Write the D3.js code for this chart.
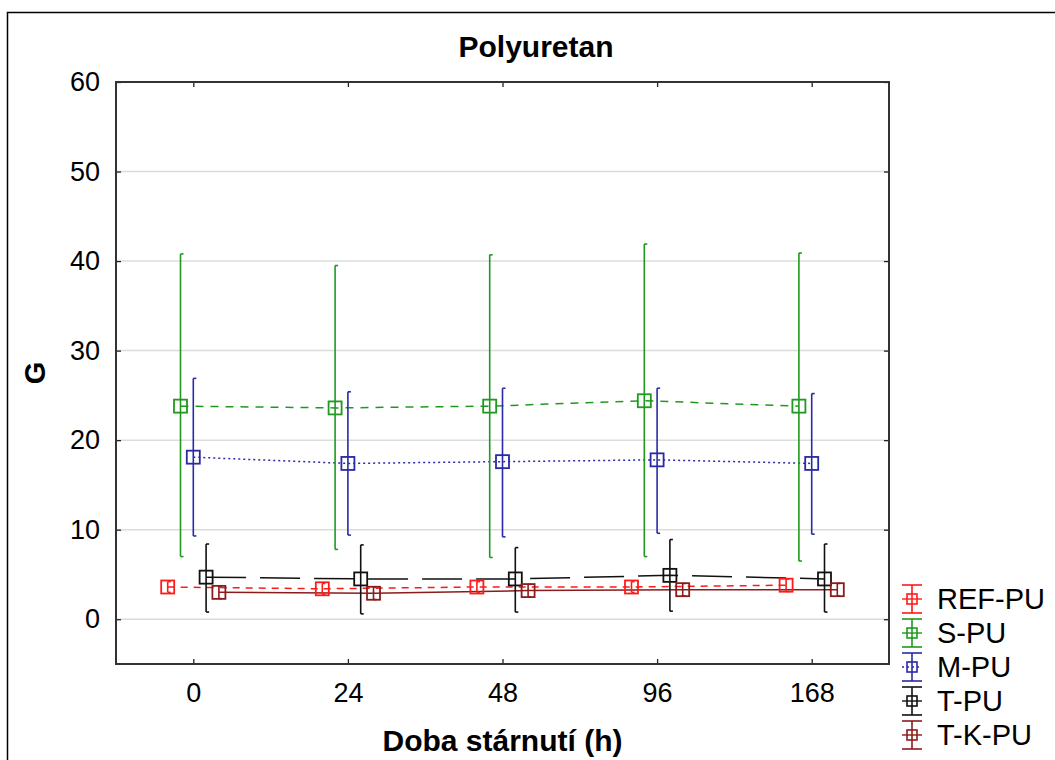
<!DOCTYPE html>
<html>
<head>
<meta charset="utf-8">
<script src="https://cdn.jsdelivr.net/npm/d3@7"></script>
<style>
  body { margin: 0; background: #fff; }
  text { font-family: "Liberation Sans", Arial, sans-serif; }
</style>
</head>
<body>
<div id="chart"></div>
<script>
// Sample data
const categories = ["0", "24", "48", "96", "168"];
const seriesNames = ["REF-PU", "S-PU", "M-PU", "T-PU", "T-K-PU"];

// means and error limits (low, high)
const refMean = [3.6, 3.4, 3.6, 3.6, 3.8];
const refLow  = [3.0, 2.8, 3.0, 3.0, 3.1];
const refHigh = [4.2, 4.0, 4.2, 4.2, 4.5];

const sMean = [23.8, 23.6, 23.8, 24.4, 23.8];
const sLow  = [7.0, 7.8, 6.9, 7.0, 6.5];
const sHigh = [40.8, 39.5, 40.7, 41.9, 40.9];

const mMean = [18.1, 17.4, 17.6, 17.8, 17.4];
const mLow  = [9.3, 9.4, 9.2, 9.6, 9.5];
const mHigh = [26.9, 25.4, 25.8, 25.8, 25.2];

const tMean = [4.7, 4.5, 4.5, 4.9, 4.5];
const tLow  = [0.8, 0.6, 0.8, 0.9, 0.8];
const tHigh = [8.4, 8.3, 8.0, 8.9, 8.4];

const tkMean = [3.0, 2.9, 3.2, 3.3, 3.3];
const tkLow  = [2.3, 2.2, 2.5, 2.6, 2.6];
const tkHigh = [3.7, 3.6, 3.9, 4.0, 4.0];

const yTicks = [0, 10, 20, 30, 40, 50, 60];

const series = [
  { name: "REF-PU", mean: refMean, low: refLow, high: refHigh, color: "#ff1a1a", dash: "7,6" },
  { name: "S-PU", mean: sMean, low: sLow, high: sHigh, color: "#1f9a1f", dash: "8,7" },
  { name: "M-PU", mean: mMean, low: mLow, high: mHigh, color: "#2a2aa6", dash: "2,3" },
  { name: "T-PU", mean: tMean, low: tLow, high: tHigh, color: "#111111", dash: "40,14" },
  { name: "T-K-PU", mean: tkMean, low: tkLow, high: tkHigh, color: "#8b1c1c", dash: null }
];

const width = 1055;
const height = 760;
const margin = { left: 116, top: 82, right: 166, bottom: 96 };
const plotW = width - margin.left - margin.right;
const plotH = height - margin.top - margin.bottom;
const fontSize = "27px";

const svg = d3.select("#chart")
  .append("svg")
  .attr("width", width)
  .attr("height", height);

// outer frame
svg.append("path")
  .attr("d", `M7.5,${height} V12.5 H${width}`)
  .attr("fill", "none")
  .attr("stroke", "#000")
  .attr("stroke-width", 1.5);

const xScale = d3.scalePoint()
  .domain(categories)
  .range([0, plotW])
  .padding(0.5);

const offset = d3.scalePoint()
  .domain(seriesNames)
  .range([-25.6, 25.6]);

const yScale = d3.scaleLinear()
  .domain([-5, 60])
  .range([plotH, 0]);

const g = svg.append("g")
  .attr("transform", `translate(${margin.left},${margin.top})`);

// grid
g.selectAll(".grid")
  .data(yTicks)
  .enter()
  .append("line")
  .attr("class", "grid")
  .attr("x1", 0)
  .attr("x2", plotW)
  .attr("y1", d => yScale(d))
  .attr("y2", d => yScale(d))
  .attr("stroke", "#dcdcdc")
  .attr("stroke-width", 1.5);

// axes with inward ticks on all sides
const yAxis = d3.axisLeft(yScale).tickValues(yTicks).tickSize(-5).tickPadding(16);
const xAxis = d3.axisBottom(xScale).tickSize(-5).tickPadding(19);

const gy = g.append("g").call(yAxis);
gy.selectAll("text").style("font-size", fontSize).attr("fill", "#000");
const gx = g.append("g").attr("transform", `translate(0,${plotH})`).call(xAxis);
gx.selectAll("text").style("font-size", fontSize).attr("fill", "#000");

g.append("g").attr("transform", `translate(${plotW},0)`)
  .call(d3.axisRight(yScale).tickValues(yTicks).tickSize(-5).tickFormat(""));
g.append("g")
  .call(d3.axisTop(xScale).tickSize(-5).tickFormat(""));

g.selectAll(".domain").remove();
g.selectAll(".tick line").attr("stroke", "#222").attr("stroke-width", 1.3);

g.append("rect")
  .attr("width", plotW)
  .attr("height", plotH)
  .attr("fill", "none")
  .attr("stroke", "#333")
  .attr("stroke-width", 2);

const px = (s, i) => xScale(categories[i]) + offset(s.name);

// lines
const line = d3.line()
  .x(d => d.x)
  .y(d => yScale(d.v));

series.forEach(s => {
  const pts = s.mean.map((v, i) => ({ x: px(s, i), v: v }));
  g.append("path")
    .datum(pts)
    .attr("d", line)
    .attr("fill", "none")
    .attr("stroke", s.color)
    .attr("stroke-width", 1.5)
    .attr("stroke-dasharray", s.dash);
});

// error bars and markers
series.forEach(s => {
  const grp = g.append("g");
  const idx = d3.range(s.mean.length);

  grp.selectAll(".err")
    .data(idx)
    .enter()
    .append("line")
    .attr("x1", i => px(s, i))
    .attr("x2", i => px(s, i))
    .attr("y1", i => yScale(s.low[i]))
    .attr("y2", i => yScale(s.high[i]))
    .attr("stroke", s.color)
    .attr("stroke-width", 1.6);

  ["low", "high"].forEach(k => {
    grp.selectAll(".cap-" + k)
      .data(idx)
      .enter()
      .append("line")
      .attr("x1", i => px(s, i))
      .attr("x2", i => px(s, i) + 3)
      .attr("y1", i => yScale(s[k][i]))
      .attr("y2", i => yScale(s[k][i]))
      .attr("stroke", s.color)
      .attr("stroke-width", 1.6);
  });

  grp.selectAll(".mark")
    .data(idx)
    .enter()
    .append("rect")
    .attr("x", i => px(s, i) - 6.5)
    .attr("y", i => yScale(s.mean[i]) - 6.5)
    .attr("width", 13)
    .attr("height", 13)
    .attr("fill", "none")
    .attr("stroke", s.color)
    .attr("stroke-width", 1.8);
});

// title and axis labels
svg.append("text")
  .attr("x", 536)
  .attr("y", 57)
  .attr("text-anchor", "middle")
  .style("font-size", "30px")
  .style("font-weight", "bold")
  .text("Polyuretan");

svg.append("text")
  .attr("x", margin.left + plotW / 2)
  .attr("y", 751)
  .attr("text-anchor", "middle")
  .style("font-size", "30px")
  .style("font-weight", "bold")
  .text("Doba stárnutí (h)");

svg.append("text")
  .attr("transform", `translate(45,${margin.top + plotH / 2}) rotate(-90)`)
  .attr("text-anchor", "middle")
  .style("font-size", "29px")
  .style("font-weight", "bold")
  .text("G");

// legend
const legend = svg.append("g").attr("transform", "translate(912,599)");
series.forEach((s, i) => {
  const row = legend.append("g").attr("transform", `translate(0,${i * 34})`);
  row.append("line").attr("x1", 0).attr("x2", 0).attr("y1", -14).attr("y2", 14)
    .attr("stroke", s.color).attr("stroke-width", 1.6);
  row.append("line").attr("x1", -10).attr("x2", 10).attr("y1", -14).attr("y2", -14)
    .attr("stroke", s.color).attr("stroke-width", 1.6);
  row.append("line").attr("x1", -10).attr("x2", 10).attr("y1", 14).attr("y2", 14)
    .attr("stroke", s.color).attr("stroke-width", 1.6);
  row.append("line").attr("x1", -10).attr("x2", 10).attr("y1", 0).attr("y2", 0)
    .attr("stroke", s.color).attr("stroke-width", 1.4)
    .attr("stroke-dasharray", s.name === "M-PU" ? "2,3" : null);
  row.append("rect").attr("x", -5).attr("y", -5).attr("width", 10).attr("height", 10)
    .attr("fill", "none").attr("stroke", s.color).attr("stroke-width", 1.6);
  row.append("text")
    .attr("x", 25)
    .attr("y", 10)
    .style("font-size", "29px")
    .text(s.name);
});
</script>
</body>
</html>
